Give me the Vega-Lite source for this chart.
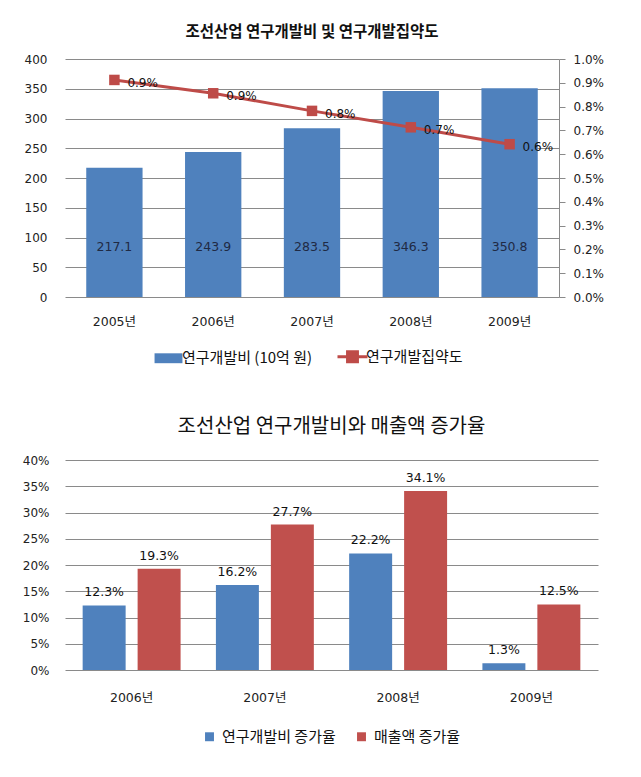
{
  "$schema": "https://vega.github.io/schema/vega-lite/v6.json",
  "padding": {"top": 24, "left": 22, "right": 5, "bottom": 5},
  "spacing": 49,
  "config": {
    "font": "Noto Sans CJK KR",
    "view": {"stroke": null},
    "axis": {"labelFont": "DejaVu Sans, Noto Sans CJK KR", "labelFontSize": 12, "labelColor": "#222", "title": null},
    "legend": {"labelFont": "Noto Sans CJK KR", "labelFontSize": 15, "labelColor": "#111", "title": null, "layout": {"bottom": {"anchor": "middle"}}}
  },
  "resolve": {"scale": {"color": "independent", "x": "independent", "y": "independent"}, "legend": {"color": "independent"}},
  "vconcat": [
    {
      "width": 494,
      "height": 238,
      "title": {"text": "조선산업 연구개발비 및 연구개발집약도", "font": "Noto Sans CJK KR", "fontSize": 15.5, "fontWeight": "bold", "color": "#111", "offset": 13, "anchor": "middle"},
      "data": {"values": [
        {"year": "2005년", "rd": 217.1, "intensity": 0.00912},
        {"year": "2006년", "rd": 243.9, "intensity": 0.00856},
        {"year": "2007년", "rd": 283.5, "intensity": 0.00782},
        {"year": "2008년", "rd": 346.3, "intensity": 0.00713},
        {"year": "2009년", "rd": 350.8, "intensity": 0.00642}
      ]},
      "encoding": {
        "x": {"field": "year", "type": "nominal", "sort": null,
              "scale": {"paddingInner": 0.43, "paddingOuter": 0.215},
              "axis": {"labelAngle": 0, "domain": false, "ticks": false, "labelPadding": 18, "labelFontSize": 12.5}}
      },
      "resolve": {"scale": {"y": "independent"}},
      "layer": [
        {
          "layer": [
            {
              "mark": {"type": "bar"},
              "encoding": {
                "y": {"field": "rd", "type": "quantitative",
                      "scale": {"domain": [0, 400]},
                      "axis": {"values": [0, 50, 100, 150, 200, 250, 300, 350, 400], "labelOverlap": false, "grid": true, "gridColor": "#8a8a8a", "gridOpacity": 1, "domain": false, "ticks": false, "labelPadding": 18}},
                "color": {"datum": "연구개발비 (10억 원)", "type": "nominal",
                          "scale": {"domain": ["연구개발비 (10억 원)", "연구개발집약도"], "range": ["#4F81BD", "#BE4B48"]},
                          "legend": {"orient": "bottom", "direction": "horizontal", "offset": 21, "symbolSize": 900, "labelOffset": 6, "columnPadding": 18,
                                     "encode": {"symbols": {"update": {
                                        "shape": {"signal": "datum.value == '연구개발집약도' ? 'M-1,0H1M-0.33,-0.33H0.33V0.33H-0.33Z' : 'M-0.93,-0.33H0.93V0.33H-0.93Z'"},
                                        "fill": {"signal": "datum.value == '연구개발집약도' ? '#BE4B48' : '#4F81BD'"},
                                        "stroke": {"signal": "datum.value == '연구개발집약도' ? '#BE4B48' : '#4F81BD'"},
                                        "strokeWidth": {"signal": "datum.value == '연구개발집약도' ? 3 : 0"},
                                        "opacity": {"value": 1}, "fillOpacity": {"value": 1}, "strokeOpacity": {"value": 1}}}}}}
              }
            },
            {
              "mark": {"type": "text", "font": "DejaVu Sans", "fontSize": 12.5, "color": "#1F2A44", "baseline": "middle"},
              "encoding": {
                "y": {"datum": 84, "type": "quantitative",
                      "axis": {"values": [0, 50, 100, 150, 200, 250, 300, 350, 400], "labelOverlap": false, "grid": true, "gridColor": "#8a8a8a", "gridOpacity": 1, "domain": false, "ticks": false, "labelPadding": 18}},
                "text": {"field": "rd", "type": "quantitative", "format": ".1f"}
              }
            }
          ]
        },
        {
          "encoding": {
            "y": {"field": "intensity", "type": "quantitative",
                  "scale": {"domain": [0, 0.01]},
                  "axis": {"orient": "right", "format": ".1%", "values": [0, 0.001, 0.002, 0.003, 0.004, 0.005, 0.006, 0.007, 0.008, 0.009, 0.01], "labelOverlap": false, "grid": false, "domain": true, "domainColor": "#8a8a8a", "ticks": true, "tickColor": "#8a8a8a", "tickSize": 6, "labelPadding": 8}}
          },
          "layer": [
            {
              "mark": {"type": "line", "strokeWidth": 3, "point": {"shape": "square", "size": 110, "filled": true, "opacity": 1}},
              "encoding": {
                "color": {"datum": "연구개발집약도", "type": "nominal"}
              }
            },
            {
              "mark": {"type": "text", "font": "DejaVu Sans", "fontSize": 12, "color": "#111", "align": "left", "baseline": "middle", "dx": 13, "dy": 3},
              "encoding": {
                "text": {"field": "intensity", "type": "quantitative", "format": ".1%"}
              }
            }
          ]
        }
      ]
    },
    {
      "width": 533,
      "height": 210,
      "title": {"text": "조선산업 연구개발비와 매출액 증가율", "font": "Noto Sans CJK KR", "fontSize": 20, "fontWeight": "normal", "color": "#111", "offset": 17, "anchor": "middle"},
      "data": {"values": [
        {"year": "2006년", "series": "연구개발비 증가율", "rate": 0.123},
        {"year": "2006년", "series": "매출액 증가율", "rate": 0.193},
        {"year": "2007년", "series": "연구개발비 증가율", "rate": 0.162},
        {"year": "2007년", "series": "매출액 증가율", "rate": 0.277},
        {"year": "2008년", "series": "연구개발비 증가율", "rate": 0.222},
        {"year": "2008년", "series": "매출액 증가율", "rate": 0.341},
        {"year": "2009년", "series": "연구개발비 증가율", "rate": 0.013},
        {"year": "2009년", "series": "매출액 증가율", "rate": 0.125}
      ]},
      "encoding": {
        "x": {"field": "year", "type": "nominal", "sort": null,
              "scale": {"paddingInner": 0.265, "paddingOuter": 0.1325},
              "axis": {"labelAngle": 0, "domain": false, "ticks": false, "labelPadding": 21, "labelFontSize": 12.5}},
        "xOffset": {"field": "series", "type": "nominal", "sort": ["연구개발비 증가율", "매출액 증가율"],
                    "scale": {"paddingInner": 0.218, "paddingOuter": 0}},
        "y": {"field": "rate", "type": "quantitative",
              "scale": {"domain": [0, 0.4]},
              "axis": {"format": ".0%", "values": [0, 0.05, 0.1, 0.15, 0.2, 0.25, 0.3, 0.35, 0.4], "labelOverlap": false, "grid": true, "gridColor": "#8a8a8a", "gridOpacity": 1, "domain": false, "ticks": false, "labelPadding": 16}}
      },
      "layer": [
        {
          "mark": {"type": "bar"},
          "encoding": {
            "color": {"field": "series", "type": "nominal", "sort": ["연구개발비 증가율", "매출액 증가율"],
                      "scale": {"domain": ["연구개발비 증가율", "매출액 증가율"], "range": ["#4F81BD", "#C0504D"]},
                      "legend": {"orient": "bottom", "direction": "horizontal", "offset": 25, "symbolType": "square", "symbolSize": 80, "labelOffset": 5, "columnPadding": 18, "symbolOpacity": 1}}
          }
        },
        {
          "mark": {"type": "text", "font": "DejaVu Sans", "fontSize": 12.5, "color": "#111", "baseline": "bottom", "dy": -6},
          "encoding": {
            "text": {"field": "rate", "type": "quantitative", "format": ".1%"}
          }
        }
      ]
    }
  ]
}
